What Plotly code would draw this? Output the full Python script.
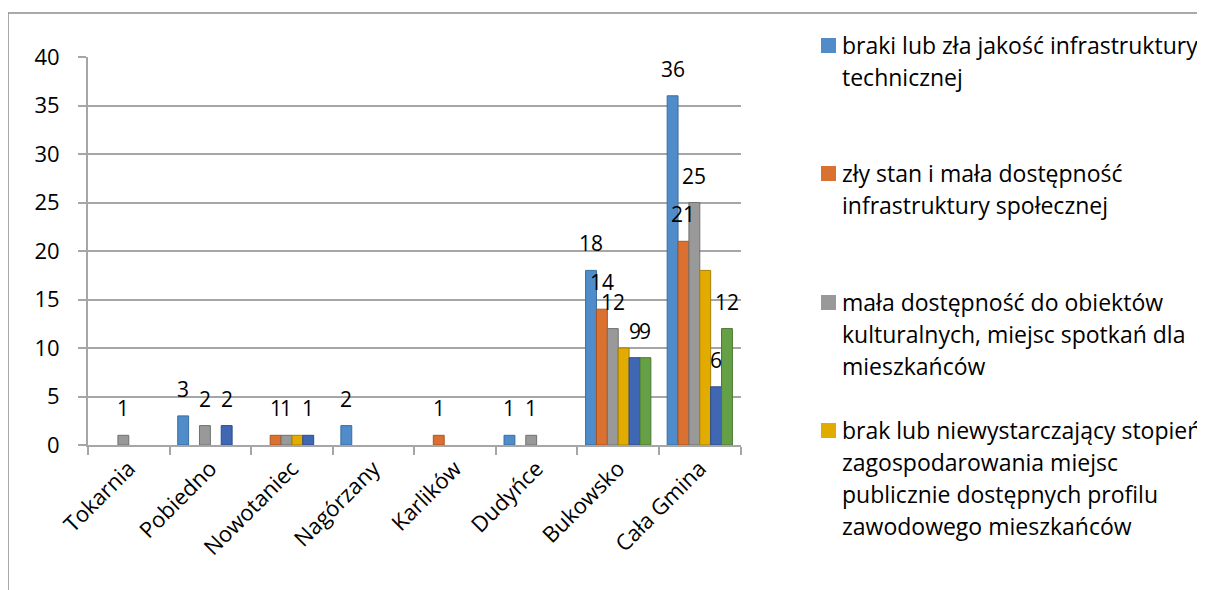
import plotly.graph_objects as go

categories = ["Tokarnia", "Pobiedno", "Nowotaniec", "Nagórzany", "Karlików",
              "Dudyńce", "Bukowsko", "Cała Gmina"]

s1_name = "braki lub zła jakość infrastruktury technicznej"
s2_name = "zły stan i mała dostępność infrastruktury społecznej"
s3_name = "mała dostępność do obiektów kulturalnych, miejsc spotkań dla mieszkańców"
s4_name = "brak lub niewystarczający stopień zagospodarowania miejsc publicznie dostępnych profilu zawodowego mieszkańców"
s5_name = "seria 5"
s6_name = "seria 6"

s1 = [0, 3, 0, 2, 0, 1, 18, 36]
s2 = [0, 0, 1, 0, 1, 0, 14, 21]
s3 = [1, 2, 1, 0, 0, 1, 12, 25]
s4 = [0, 0, 1, 0, 0, 0, 10, 18]
s5 = [0, 2, 1, 0, 0, 0, 9, 6]
s6 = [0, 0, 0, 0, 0, 0, 9, 12]

series = [
    (s1_name, s1, "#4F8CC9", "#3A6E9F", True),
    (s2_name, s2, "#DB7131", "#A85522", True),
    (s3_name, s3, "#999999", "#707070", True),
    (s4_name, s4, "#E2AB00", "#A98000", False),
    (s5_name, s5, "#3F67B4", "#2D4C88", True),
    (s6_name, s6, "#66A046", "#4A7833", True),
]

legend_lines = [
    ["braki lub zła jakość infrastruktury", "technicznej"],
    ["zły stan i mała dostępność", "infrastruktury społecznej"],
    ["mała dostępność do obiektów", "kulturalnych, miejsc spotkań dla", "mieszkańców"],
    ["brak lub niewystarczający stopień", "zagospodarowania miejsc",
     "publicznie dostępnych profilu", "zawodowego mieszkańców"],
]

FONT = "Open Sans"
W, H = 1205, 590
OFF = 8  # page body margin
L, R, T, B = 88 - OFF, 741 - OFF, 57 - OFF, 445 - OFF  # plot area (figure px)
BARGAP = 0.2

def px_x(px):
    return (px - OFF - L) / (R - L)

def px_y(py):
    return (B - (py - OFF)) / (B - T)

fig = go.Figure()
for name, vals, color, dark, _ in series:
    fig.add_trace(go.Bar(
        x=categories, y=vals, name=name,
        marker=dict(color=color,
                    line=dict(color=dark, width=[1 if v else 0 for v in vals])),
        showlegend=False,
    ))

# data labels
cat_px = (R - L) / len(categories)
bar_px = cat_px * (1 - BARGAP) / len(series)
annotations = []
for i, (name, vals, color, dark, lab) in enumerate(series):
    if not lab:
        continue
    for c, v in zip(categories, vals):
        if v:
            annotations.append(dict(
                x=c, y=v, xref="x", yref="y", text=str(v), showarrow=False,
                xshift=(i - (len(series) - 1) / 2) * bar_px, yshift=27,
                yanchor="middle", xanchor="center",
                font=dict(family=FONT, size=21, color="#000000")))

# manual legend
entry_tops = [45, 173, 302, 430]
line_gap = 32
shapes = []
for k, (lines, top) in enumerate(zip(legend_lines, entry_tops)):
    color = series[k][2]
    shapes.append(dict(type="rect", xref="paper", yref="paper",
                       x0=px_x(821), x1=px_x(836), y0=px_y(38 + (top - 45)), y1=px_y(53 + (top - 45)),
                       fillcolor=color, line=dict(width=0)))
    for j, t in enumerate(lines):
        annotations.append(dict(
            x=px_x(840), y=px_y(top + j * line_gap), xref="paper", yref="paper",
            text=t, showarrow=False, xanchor="left", yanchor="middle",
            font=dict(family=FONT, size=23, color="#000000")))

# outer chart border
shapes.append(dict(type="line", xref="paper", yref="paper",
                   x0=px_x(8), x1=px_x(8), y0=px_y(13), y1=px_y(610),
                   line=dict(color="#8C8C8C", width=1.5)))
shapes.append(dict(type="line", xref="paper", yref="paper",
                   x0=px_x(8), x1=px_x(1220), y0=px_y(13), y1=px_y(13),
                   line=dict(color="#8C8C8C", width=1.5)))

fig.update_layout(
    width=W, height=H,
    margin=dict(l=L, r=W - R, t=T, b=H - B),
    paper_bgcolor="white", plot_bgcolor="white",
    barmode="group", bargap=BARGAP, bargroupgap=0,
    font=dict(family=FONT, size=22, color="#000000"),
    annotations=annotations, shapes=shapes,
    xaxis=dict(
        type="category", showline=True, linecolor="#A6A6A6", linewidth=2,
        ticks="outside", tickson="boundaries", ticklen=8, tickcolor="#A6A6A6",
        tickwidth=1.5, tickangle=-45, showgrid=False,
        tickfont=dict(family=FONT, size=22, color="#000000"),
    ),
    yaxis=dict(
        range=[0, 40], tickmode="array", tickvals=list(range(0, 41, 5)),
        showline=True, linecolor="#A6A6A6", linewidth=2,
        ticks="outside", ticklen=8, tickcolor="#A6A6A6", tickwidth=1.5,
        ticklabelstandoff=14,
        showgrid=True, gridcolor="#A6A6A6", gridwidth=2, zeroline=False,
        tickfont=dict(family=FONT, size=22, color="#000000"),
    ),
)

fig.write_html("out.html")
